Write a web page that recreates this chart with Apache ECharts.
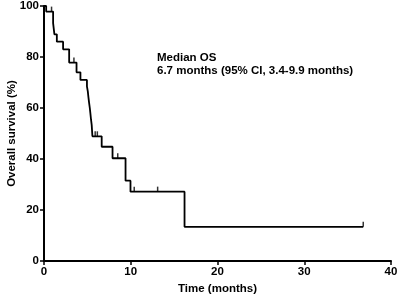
<!DOCTYPE html>
<html>
<head>
<meta charset="utf-8">
<script src="https://cdn.jsdelivr.net/npm/echarts@6/dist/echarts.min.js"></script>
<style>
  html, body { margin: 0; padding: 0; background: #fff; }
  #chart { width: 398px; height: 300px; }
</style>
</head>
<body>
<div id="chart"></div>
<script>
// KM step points: time (months) and survival (%)
const stepTimes = [0, 0.25, 1.05, 1.2, 1.48, 2.2, 2.9, 3.75, 4.2, 4.95, 5.05, 5.12, 5.2, 5.28, 5.35, 5.42, 5.5, 5.58, 6.65, 7.9, 9.4, 9.97, 16.2, 36.8];
const stepSurv  = [100, 97.8, 93.3, 88.9, 86.0, 83.0, 77.8, 74.0, 71.0, 68.5, 66.5, 64.3, 62.0, 60.0, 57.8, 55.5, 53.3, 48.9, 44.8, 40.3, 31.5, 27.2, 13.4, 13.4];
// censored marks
const censorTimes = [0.87, 3.45, 5.9, 6.15, 8.5, 10.4, 13.1, 36.8];
const censorSurv  = [97.8, 77.8, 48.9, 48.9, 40.3, 27.2, 27.2, 13.4];

const xTicks = [0, 10, 20, 30, 40];
const yTicks = [0, 20, 40, 60, 80, 100];

const fontFam = '"Liberation Sans", Arial, sans-serif';

let chart = echarts.init(document.getElementById('chart'));

let option = {
    animation: false,
    grid: { left: 44, right: 7, top: 6, bottom: 39, outerBoundsMode: 'none', containLabel: false },
    xAxis: {
        type: 'value',
        min: xTicks[0],
        max: xTicks[xTicks.length - 1],
        interval: 10,
        name: 'Time (months)',
        nameLocation: 'middle',
        nameGap: 22,
        nameMoveOverlap: false,
        nameTextStyle: { color: '#000', fontWeight: 'bold', fontSize: 11.5, fontFamily: fontFam },
        axisLine: { lineStyle: { color: '#000', width: 2 } },
        axisTick: { show: true, length: 4, lineStyle: { color: '#000', width: 1.5 } },
        axisLabel: { color: '#000', fontWeight: 'bold', fontSize: 11.5, fontFamily: fontFam, margin: 5 },
        splitLine: { show: false }
    },
    yAxis: {
        type: 'value',
        min: yTicks[0],
        max: yTicks[yTicks.length - 1],
        interval: 20,
        name: 'Overall survival (%)',
        nameLocation: 'middle',
        nameGap: 26,
        nameMoveOverlap: false,
        nameTextStyle: { color: '#000', fontWeight: 'bold', fontSize: 11.5, fontFamily: fontFam },
        axisLine: { show: true, lineStyle: { color: '#000', width: 2 } },
        axisTick: { show: true, length: 4, lineStyle: { color: '#000', width: 1.5 } },
        axisLabel: { color: '#000', fontWeight: 'bold', fontSize: 11.5, fontFamily: fontFam, margin: 5 },
        splitLine: { show: false }
    },
    graphic: [
        {
            type: 'text', left: 157, top: 52,
            style: { text: 'Median OS', fill: '#000', font: 'bold 11.5px ' + fontFam }
        },
        {
            type: 'text', left: 157, top: 65,
            style: { text: '6.7 months (95% CI, 3.4-9.9 months)', fill: '#000', font: 'bold 11.5px ' + fontFam }
        }
    ],
    series: [
        {
            type: 'line',
            step: 'end',
            data: stepTimes.map((t, i) => [t, stepSurv[i]]),
            showSymbol: false,
            lineStyle: { color: '#000', width: 1.8 }
        },
        {
            type: 'scatter',
            data: censorTimes.map((t, i) => [t, censorSurv[i]]),
            symbol: 'rect',
            symbolSize: [1.5, 5],
            symbolOffset: [0, -2.5],
            itemStyle: { color: '#000' }
        }
    ]
};

chart.setOption(option);
</script>
</body>
</html>
